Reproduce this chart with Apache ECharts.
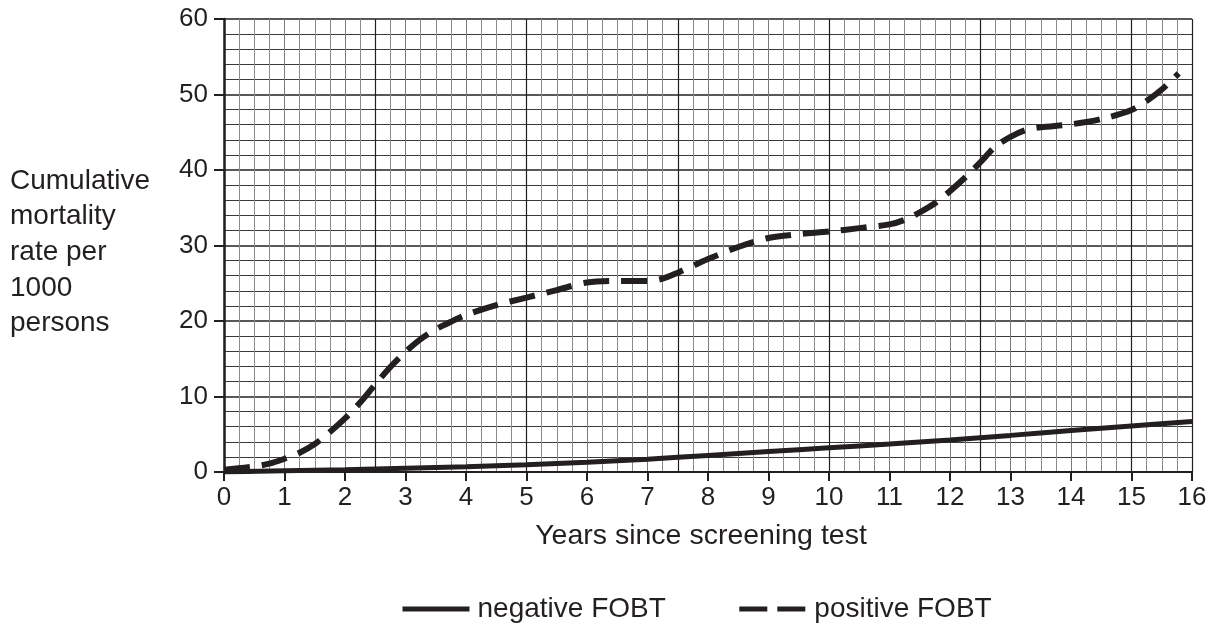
<!DOCTYPE html>
<html>
<head>
<meta charset="utf-8">
<script src="https://cdn.jsdelivr.net/npm/echarts@6/dist/echarts.min.js"></script>
<style>
html,body{margin:0;padding:0;background:#fff;}
#chart{width:1218px;height:624px;}
</style>
</head>
<body>
<div id="chart"></div>
<script>
// Years since screening test (x) and cumulative mortality per 1000 (y)
var negX = [0,1,2,3,4,5,6,7,8,9,10,11,12,13,14,15,16];
var negY = [0,0.15,0.3,0.5,0.7,0.95,1.3,1.7,2.2,2.7,3.2,3.7,4.25,4.85,5.5,6.1,6.7];

var posX = [0,0.5,0.75,1,1.25,1.5,1.75,2,2.25,2.5,2.75,3,3.25,3.5,3.75,4,4.5,5,5.5,6,6.5,7,7.25,7.5,8,8.5,9,9.5,10,10.5,11,11.25,11.5,11.75,12,12.25,12.5,12.75,13,13.25,13.5,14,14.5,15,15.25,15.5,15.78];
var posY = [0.3,0.75,1.1,1.75,2.55,3.7,5.3,7.1,9.2,11.6,13.9,15.9,17.6,18.9,19.9,20.8,22.1,23.1,24.1,25.1,25.3,25.3,25.6,26.4,28.2,29.8,31.0,31.5,31.85,32.3,32.8,33.4,34.4,35.6,37.2,39.0,41.0,43.1,44.4,45.3,45.65,46.05,46.75,47.95,49.15,50.65,52.8];

var xTickLabels = ['0','1','2','3','4','5','6','7','8','9','10','11','12','13','14','15','16'];
var yTickLabels = ['0','10','20','30','40','50','60'];
var seriesNames = ['negative FOBT','positive FOBT'];
var xTitle = 'Years since screening test';
var yTitle = 'Cumulative\nmortality\nrate per\n1000\npersons';

function pairs(xs, ys){ return xs.map(function(x,i){ return [x, ys[i]]; }); }

var INK = '#231f20';
var FONT = '"Liberation Sans", Arial, sans-serif';

var chart = echarts.init(document.getElementById('chart'));
chart.setOption({
  animation: false,
  backgroundColor: '#fff',
  grid: {left: 224, right: 26, top: 19, bottom: 152, containLabel: false},
  graphic: [{
    type: 'text', left: 10, top: 163, z: 10,
    style: {text: yTitle, fontSize: 28, fontFamily: FONT, lineHeight: 35.7, fill: INK}
  }],
  legend: {
    left: 395, top: 590,
    itemWidth: 67, itemHeight: 14, itemGap: 71,
    textStyle: {fontSize: 28, fontFamily: FONT, color: INK, padding: [0,0,0,3]},
    data: [
      {name: seriesNames[0], itemStyle: {color: 'rgba(0,0,0,0)'}, lineStyle: {width: 5, type: 'solid', color: INK}},
      {name: seriesNames[1], itemStyle: {color: 'rgba(0,0,0,0)'}, lineStyle: {width: 5, type: [28, 10], color: INK}}
    ]
  },
  xAxis: [{
    type: 'value', min: 0, max: 16, interval: 1,
    name: xTitle, nameLocation: 'middle', nameGap: 50,
    nameTextStyle: {fontSize: 28.5, fontFamily: FONT, color: INK, padding: [0, 14, 0, 0]},
    axisLine: {show: true, onZero: false, lineStyle: {color: INK, width: 2}},
    axisTick: {show: true, length: 9, lineStyle: {color: INK, width: 2}},
    axisLabel: {fontSize: 26, fontFamily: FONT, color: INK, margin: 13,
      formatter: function(v){ var i = xTickLabels.indexOf(String(v)); return i >= 0 ? xTickLabels[i] : ''; }},
    splitLine: {show: true, lineStyle: {color: '#7a7a7a', width: 1}},
    minorTick: {show: true, splitNumber: 4, length: 0},
    minorSplitLine: {show: true, lineStyle: {color: '#8a8a8a', width: 1}}
  }, {
    type: 'value', min: 0, max: 16, interval: 2.5, position: 'bottom',
    axisLine: {show: false}, axisTick: {show: false}, axisLabel: {show: false},
    splitLine: {show: true, lineStyle: {color: INK, width: 1.2}}
  }],
  yAxis: {
    type: 'value', min: 0, max: 60, interval: 10,
    axisLine: {show: true, lineStyle: {color: INK, width: 2.5}},
    axisTick: {show: true, length: 10, lineStyle: {color: INK, width: 2}},
    axisLabel: {fontSize: 26, fontFamily: FONT, color: INK, margin: 16,
      formatter: function(v){ var i = yTickLabels.indexOf(String(v)); return i >= 0 ? yTickLabels[i] : ''; }},
    splitLine: {show: true, lineStyle: {color: INK, width: 1.5}},
    minorTick: {show: true, splitNumber: 5, length: 0},
    minorSplitLine: {show: true, lineStyle: {color: '#3a3a3a', width: 1}}
  },
  series: [{
    name: seriesNames[0], type: 'line', xAxisIndex: 0,
    data: pairs(negX, negY), smooth: 0.3, symbol: 'none', showSymbol: false,
    lineStyle: {color: INK, width: 5, type: 'solid'}, z: 5
  }, {
    name: seriesNames[1], type: 'line', xAxisIndex: 0,
    data: pairs(posX, posY), smooth: 0.3, symbol: 'none', showSymbol: false,
    lineStyle: {color: INK, width: 6, type: [26, 12]}, z: 5
  }]
});
</script>
</body>
</html>
